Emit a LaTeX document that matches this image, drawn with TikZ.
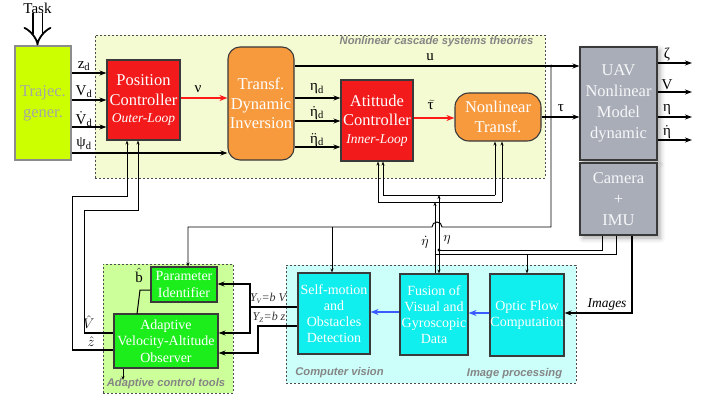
\documentclass[tikz,border=0pt]{standalone}
\usepackage{fix-cm}
\usepackage{fontspec}
\setmainfont{Liberation Serif}
\newfontfamily\lsans{Liberation Sans}
\usetikzlibrary{arrows.meta,shadows.blur}
\definecolor{trajc}{HTML}{CCFF00}
\definecolor{trajt}{HTML}{A6A6A6}
\definecolor{ncsc}{HTML}{F4FAD2}
\definecolor{redc}{HTML}{F21A1A}
\definecolor{orc}{HTML}{F79A3E}
\definecolor{grayc}{HTML}{A9ADB8}
\definecolor{actc}{HTML}{CCFF99}
\definecolor{greenc}{HTML}{1CEE1C}
\definecolor{cvc}{HTML}{CCFFFA}
\definecolor{cyanc}{HTML}{10EEEE}
\definecolor{bluec}{HTML}{3A5CFF}
\definecolor{arrred}{HTML}{FF1A1A}
\definecolor{rlab}{HTML}{858585}
\definecolor{bord}{HTML}{3A3A3A}
\begin{document}
\begin{tikzpicture}[x=1pt,y=-1pt,
  box/.style={draw=bord, line width=1.1pt, inner sep=0pt, align=center, text=white,
    font=\fontsize{16.5}{19.5}\selectfont},
  redbox/.style={box, fill=redc},
  orbox/.style={box, fill=orc, rounded corners=12pt},
  graybox/.style={box, fill=grayc, text=white!90!grayc,
    blur shadow={shadow xshift=3pt, shadow yshift=-3pt, shadow blur radius=5pt, shadow opacity=35}},
  grbox/.style={box, fill=greenc, font=\fontsize{14}{16.5}\selectfont},
  cybox/.style={box, fill=cyanc, font=\fontsize{14}{16}\selectfont},
  region/.style={draw=black!70, dash pattern=on 2pt off 2pt, line width=0.6pt, inner sep=0pt},
  rlabel/.style={font=\lsans\bfseries\itshape\fontsize{11.2}{13}\selectfont, text=rlab, inner sep=0pt},
  sig/.style={line width=1.6pt, -{Stealth[length=7pt,width=5pt]}},
  sigred/.style={sig, draw=arrred, -{Stealth[length=8pt,width=6pt]}},
  sigblue/.style={sig, draw=bluec, -{Stealth[length=8pt,width=6pt]}},
  thickl/.style={line width=1.6pt},
  fb/.style={line width=0.95pt, -{Stealth[length=4pt,width=3pt]}},
  fbl/.style={line width=0.95pt},
  slab/.style={font=\fontsize{15}{17}\selectfont, inner sep=0pt},
  ilab/.style={font=\itshape\fontsize{12}{14}\selectfont, inner sep=0pt, text=black!80}
]
\useasboundingbox (0,0) rectangle (707,396);

% regions
\node[region, fill=ncsc, minimum width=450pt, minimum height=143pt] (ncs) at (320,106.5) {};
\node[rlabel] (ncsl) at (436.5,42) {Nonlinear cascade systems theories};
\node[region, fill=actc, minimum width=130pt, minimum height=129pt] (act) at (168,328.5) {};
\node[rlabel] (actl) at (166,384) {Adaptive control tools};
\node[region, fill=cvc, minimum width=290pt, minimum height=118pt] (cv) at (431,324) {};
\node[rlabel] (cvl1) at (339.5,373) {Computer vision};
\node[rlabel] (cvl2) at (514.5,374) {Image processing};

% boxes
\node[font=\fontsize{15}{17}\selectfont, inner sep=0pt] (task) at (37.5,8) {Task};
\node[box, fill=trajc, draw=black!45, text=trajt, minimum width=56pt, minimum height=114pt, font=\fontsize{16.5}{21}\selectfont] (traj) at (43,103) {Trajec.\\gener.};
\node[redbox, minimum width=73pt, minimum height=80pt] (pos) at (143.5,100) {Position\\Controller\\[-2pt]{\itshape\fontsize{13.5}{16}\selectfont Outer-Loop}};
\node[orbox, minimum width=66pt, minimum height=113pt] (tdi) at (261,103.5) {Transf.\\Dynamic\\Inversion};
\node[redbox, minimum width=72pt, minimum height=81pt] (att) at (377,120.5) {Atittude\\Controller\\[-2pt]{\itshape\fontsize{13.5}{16}\selectfont Inner-Loop}};
\node[orbox, rounded corners=14pt, minimum width=86pt, minimum height=48pt] (nlt) at (498,117) {Nonlinear\\Transf.};
\node[graybox, minimum width=77pt, minimum height=113pt, font=\fontsize{16.5}{21}\selectfont] (uav) at (618.5,103.5) {UAV\\Nonlinear\\Model\\dynamic};
\node[graybox, minimum width=77pt, minimum height=72pt, font=\fontsize{16.5}{21}\selectfont] (cam) at (618.5,199) {Camera\\+\\IMU};
\node[grbox, minimum width=66pt, minimum height=35pt] (param) at (184,284.5) {Parameter\\Identifier};
\node[grbox, minimum width=104pt, minimum height=54pt] (obs) at (166,341) {Adaptive\\Velocity-Altitude\\Observer};
\node[cybox, minimum width=72pt, minimum height=81pt] (self) at (334,313.5) {Self-motion\\and\\Obstacles\\Detection};
\node[cybox, minimum width=68pt, minimum height=81pt] (fus) at (434,314.5) {Fusion of\\Visual and\\Gyroscopic\\Data};
\node[cybox, minimum width=74pt, minimum height=82pt] (opt) at (527,315) {Optic Flow\\Computation};

% task arrow
\draw[line width=1.8pt, double, double distance=8pt, -{Implies}] (task.south) -- (task.south |- traj.north);

% level coordinates
\coordinate (yzd) at (0,73);
\coordinate (yvd) at (0,100);
\coordinate (yvdd) at (0,127);
\coordinate (ypsi) at (0,153);
\coordinate (ynu) at (0,98);
\coordinate (ye1) at (0,98);
\coordinate (ye2) at (0,121);
\coordinate (ye3) at (0,147);
\coordinate (yu) at (0,66);
\coordinate (ytt) at (0,118);
\coordinate (ytau) at (0,117);
\coordinate (o1) at (692,63);
\coordinate (o2) at (692,92);
\coordinate (o3) at (692,117);
\coordinate (o4) at (692,140);

% forward signals
\draw[sig] (traj.east |- yzd) -- (pos.west |- yzd);
\draw[sig] (traj.east |- yvd) -- (pos.west |- yvd);
\draw[sig] (traj.east |- yvdd) -- (pos.west |- yvdd);
\draw[sig] (traj.east |- ypsi) -- (tdi.west |- ypsi);
\draw[sigred] (pos.east |- ynu) -- (tdi.west |- ynu);
\draw[sig] (tdi.east |- ye1) -- (att.west |- ye1);
\draw[sig] (tdi.east |- ye2) -- (att.west |- ye2);
\draw[sig] (tdi.east |- ye3) -- (att.west |- ye3);
\draw[sig] (tdi.east |- yu) -- (uav.west |- yu);
\draw[sigred] (att.east |- ytt) -- (nlt.west |- ytt);
\draw[sig] (nlt.east |- ytau) -- (uav.west |- ytau);
\draw[sig] (uav.east |- o1) -- (o1);
\draw[sig] (uav.east |- o2) -- (o2);
\draw[sig] (uav.east |- o3) -- (o3);
\draw[sig] (uav.east |- o4) -- (o4);

% signal labels
\node[slab] (lzd) at (84,66) {z\textsubscript{d}};
\node[slab] (lvd) at (84,92) {V\textsubscript{d}};
\node[slab] (lvdd) at (84,119) {$\dot{\hbox{V}}$\textsubscript{d}};
\node[slab] (lpsi) at (84,144) {ψ\textsubscript{d}};
\node[slab] (lnu) at (198,89) {ν};
\node[slab] (le1) at (317,89) {η\textsubscript{d}};
\node[slab] (le2) at (317,113) {$\dot{\hbox{η}}$\textsubscript{d}};
\node[slab] (le3) at (317,140) {$\ddot{\hbox{η}}$\textsubscript{d}};
\node[slab] (lu) at (430,57) {u};
\node[slab] (ltt) at (432,105) {$\widetilde{\hbox{τ}\,}$};
\node[slab] (ltau) at (561,108) {τ};
\node[slab] (lo1) at (667,55) {ζ};
\node[slab] (lo2) at (667,85) {V};
\node[slab] (lo3) at (667,110) {η};
\node[slab] (lo4) at (667,132) {$\dot{\hbox{η}}$};

% u feedback
\coordinate (ju) at (551,66);
\coordinate (jud) at (551,227);
\coordinate (hmp) at (442,227);
\coordinate (c188) at (188,227);
\coordinate (c332) at (332,227);
\fill (ju) circle (1.5pt);
\draw[fb] (ju) -- (jud) -- (hmp) arc[start angle=0, end angle=180, radius=5pt] -- (c188) -- (c188 |- param.north);
\draw[fb] (c332) -- (c332 |- self.north);

% eta feedback
\coordinate (ce602) at (602,250);
\coordinate (jeta) at (439,250);
\coordinate (etatop) at (439,195);
\coordinate (d1a) at (383,195);
\coordinate (d1b) at (495,195);
\coordinate (d2a) at (378,202);
\coordinate (d2b) at (502,202);
\draw[fbl] (ce602 |- cam.south) -- (ce602) -- (jeta);
\fill (jeta) circle (1.6pt);
\draw[fb] (jeta) -- (etatop);
\draw[fb] (jeta) -- (jeta |- fus.north);
\draw[fbl] (d1a) -- (d1b);
\draw[fbl] (d2a) -- (d2b);
\draw[fb] (d1a) -- (d1a |- att.south);
\draw[fb] (d2a) -- (d2a |- att.south);
\draw[fb] (d1b) -- (d1b |- nlt.south);
\draw[fb] (d2b) -- (d2b |- nlt.south);
% eta dot
\coordinate (cd616) at (616,254);
\coordinate (jdot) at (435,254);
\coordinate (dottop) at (435,202);
\coordinate (c527) at (527,254);
\draw[fbl] (cd616 |- cam.south) -- (cd616) -- (jdot);
\draw[fb] (jdot) -- (dottop);
\draw[fbl] (jdot) -- (jdot |- fus.north);
\draw[fb] (c527) -- (c527 |- opt.north);
\node[font=\fontsize{14}{16}\selectfont, inner sep=0pt] (letad) at (425,242) {$\dot\eta$};
\node[font=\fontsize{14}{16}\selectfont, inner sep=0pt] (leta) at (447,240) {$\eta$};

% observer -> position controller
\coordinate (pz1) at (127,196);
\coordinate (pz2) at (72,196);
\coordinate (pz3) at (72,350);
\coordinate (pv1) at (138,210);
\coordinate (pv2) at (84,210);
\coordinate (pv3) at (84,333);
\draw[fb] (pz3) -- (pz2) -- (pz1) -- (pz1 |- pos.south);
\draw[thickl] (obs.west |- pz3) -- (pz3);
\draw[fb] (pv3) -- (pv2) -- (pv1) -- (pv1 |- pos.south);
\draw[thickl] (obs.west |- pv3) -- (pv3);
\node[font=\fontsize{14}{16}\selectfont, inner sep=0pt] (lvh) at (89,322) {$\hat{V}$};
\node[font=\fontsize{14}{16}\selectfont, inner sep=0pt] (lzh) at (91,342) {$\hat{z}$};
\coordinate (ob) at (123,380);
\draw[fb] (ob |- obs.south) -- (ob);

% b hat
\coordinate (bh1) at (140,290);
\coordinate (bh2) at (137,314);
\draw[line width=1pt] (param.west |- bh1) -- (bh1) -- (bh2);
\node[slab] (lbh) at (139,275) {$\hat{\hbox{b}}$};

% Yv, Yz
\coordinate (yv0) at (250,307);
\coordinate (yv1) at (250,284);
\coordinate (yv2) at (250,333);
\coordinate (yz0) at (258,326);
\coordinate (yz1) at (258,353);
\draw[thickl] (self.west |- yv0) -- (yv0);
\draw[sig] (yv0) -- (yv1) -- (param.east |- yv1);
\draw[sig] (yv0) -- (yv2) -- (obs.east |- yv2);
\draw[sig] (self.west |- yz0) -- (yz0) -- (yz1) -- (obs.east |- yz1);
\node[ilab] (lyv) at (268,298) {$\hbox{\itshape Y}_{\hbox{\itshape\scriptsize V}}$=b V};
\node[ilab] (lyz) at (269,317) {$\hbox{\itshape Y}_{\hbox{\itshape\scriptsize Z}}$=b z};

% images
\coordinate (im) at (632,313);
\draw[sig] (im |- cam.south) -- (im) -- (opt.east |- im);
\node[font=\itshape\fontsize{13.5}{16}\selectfont, inner sep=0pt] (limg) at (607,305) {Images};

% blue arrows
\coordinate (yb1) at (0,313);
\coordinate (yb2) at (0,312);
\draw[sigblue] (opt.west |- yb1) -- (fus.east |- yb1);
\draw[sigblue] (fus.west |- yb2) -- (self.east |- yb2);
\end{tikzpicture}
\end{document}
